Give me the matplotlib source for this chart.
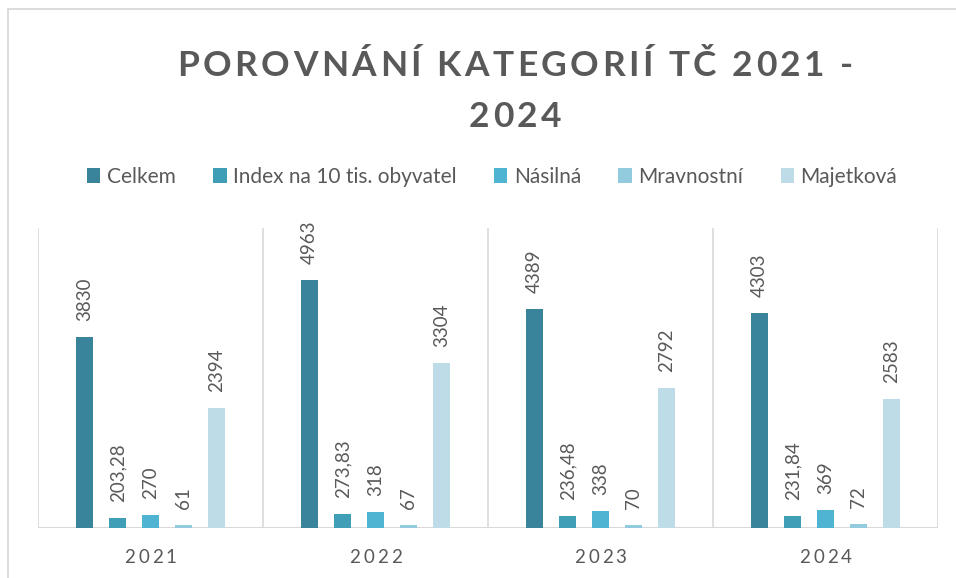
import matplotlib
matplotlib.use("Agg")
import matplotlib.pyplot as plt
from matplotlib.font_manager import FontProperties
from matplotlib.patches import Rectangle, Patch
import numpy as np

plt.rcParams['font.family'] = ['Lato', 'DejaVu Sans']

years = ["2021", "2022", "2023", "2024"]
series_names = ["Celkem", "Index na 10 tis. obyvatel", "Násilná", "Mravnostní", "Majetková"]
celkem = [3830, 4963, 4389, 4303]
index10 = [203.28, 273.83, 236.48, 231.84]
nasilna = [270, 318, 338, 369]
mravnostni = [61, 67, 70, 72]
majetkova = [2394, 3304, 2792, 2583]
series = [celkem, index10, nasilna, mravnostni, majetkova]
colors = ["#39849A", "#409EB6", "#4EB4D2", "#93CBDE", "#BDDCE8"]
title_lines = ["POROVNÁNÍ KATEGORIÍ TČ 2021 -", "2024"]

W, H = 956, 578
TXT = "#595959"
GRID = "#D9D9D9"

fig = plt.figure(figsize=(W / 100, H / 100), dpi=100)
ax = fig.add_axes([38 / W, 50 / H, 900 / W, 300 / H])
ax.set_xlim(-0.5, 3.5)
ax.set_ylim(0, 6000)
for s in ax.spines.values():
    s.set_visible(False)
ax.set_xticks([])
ax.set_yticks([])

# separators and base line
for b in np.arange(-0.5, 4.0, 1.0):
    ax.axvline(b, color=GRID, lw=1.2, zorder=0)
ax.axhline(0, color=GRID, lw=1.5, zorder=1)

step = 33 / 225
bw = 17 / 225
x = np.arange(len(years))


def fmt(v):
    if float(v).is_integer():
        return str(int(v))
    return f"{v:.2f}".replace(".", ",")


for i, (vals, col) in enumerate(zip(series, colors)):
    xs = x + (i - 2) * step
    ax.bar(xs, vals, width=bw, color=col, zorder=2)
    for xi, v in zip(xs, vals):
        ax.annotate(fmt(v), (xi, v), xytext=(0, 11.5), textcoords="offset points",
                    rotation=90, ha="center", va="bottom", fontsize=13.5, color=TXT)

renderer = fig.canvas.get_renderer()


def adv(c, fp):
    w1 = renderer.get_text_width_height_descent("|" + c + "|", fp, ismath=False)[0]
    w0 = renderer.get_text_width_height_descent("||", fp, ismath=False)[0]
    return w1 - w0


def spaced(cx, base_y, s, fp, track=None, target=None):
    advs = [adv(c, fp) for c in s]
    if track is None:
        track = (target - sum(advs)) / (len(s) - 1)
    total = sum(advs) + track * (len(s) - 1)
    xx = cx - total / 2
    for c, a in zip(s, advs):
        fig.text(xx / W, 1 - base_y / H, c, fontproperties=fp, color=TXT,
                 ha="left", va="baseline")
        xx += a + track
    return track


# title
fp_t = FontProperties(family="Lato", weight="bold", size=25.5)
tr = spaced(515, 76, title_lines[0], fp_t, target=676)
spaced(515, 127, title_lines[1], fp_t, track=tr)

# category labels
fp_x = FontProperties(family="Lato", size=13.5)
for xi, y in zip(x, years):
    px = ax.transData.transform((xi, 0))[0]
    spaced(px, 563, y, fp_x, target=52)

# legend
handles = [Patch(facecolor=c, edgecolor="none") for c in colors]
leg = fig.legend(handles, series_names, loc="center", bbox_to_anchor=(492 / W, 1 - 177 / H),
                 ncol=5, frameon=False, fontsize=15, handlelength=0.65, handleheight=0.7,
                 handletextpad=0.3, columnspacing=1.8, labelcolor=TXT)

# chart frame
fig.patches.append(Rectangle((8 / W, -0.1), 2, 1 - 9 / H + 0.1, transform=fig.transFigure,
                             fill=False, edgecolor=GRID, lw=1.3))

fig.savefig("out.png", dpi=100)
